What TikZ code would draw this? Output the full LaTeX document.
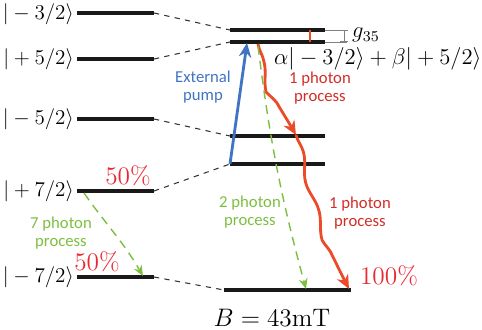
\documentclass[tikz,border=0pt]{standalone}
\usepackage{fontspec}
\newfontfamily\procfont{Carlito}
\usetikzlibrary{arrows.meta,decorations.pathmorphing}
\definecolor{pumpblue}{RGB}{65,115,195}
\definecolor{wavered}{RGB}{235,75,40}
\definecolor{procred}{RGB}{210,45,40}
\definecolor{pctred}{RGB}{235,40,50}
\definecolor{photgreen}{RGB}{125,190,65}
\tikzset{
  level/.style={line width=2pt, black!90},
  link/.style={dash pattern=on 3pt off 3pt, line width=0.6pt, black!80},
  ket/.style={font=\large, inner sep=0.5pt},
  proc/.style={font=\procfont\fontsize{9.5}{10.2}\selectfont, align=center, inner sep=0pt},
  pct/.style={font=\Large, text=pctred, inner sep=0pt},
  photon/.style={wavered, line width=1.6pt, decorate,
    decoration={snake, amplitude=1.6pt, segment length=34pt, post length=7pt},
    -{Stealth[length=8pt,width=7pt]}},
  multi/.style={photgreen, line width=0.8pt, dash pattern=on 5pt off 3.5pt,
    -{Stealth[length=6pt,width=5pt]}}
}
\begin{document}
\begin{tikzpicture}[x=0.2mm, y=-0.2mm]
    \useasboundingbox (0,0) rectangle (482,329);

    % Left levels
    \coordinate (m32a) at (77,13);   \coordinate (m32b) at (154,13);
    \coordinate (p52a) at (77,59);   \coordinate (p52b) at (154,59);
    \coordinate (m52a) at (77,119);  \coordinate (m52b) at (154,119);
    \coordinate (p72a) at (77,191);  \coordinate (p72b) at (154,191);
    \coordinate (m72a) at (77,277);  \coordinate (m72b) at (154,277);

    \draw[level] (m32a) -- (m32b);
    \draw[level] (p52a) -- (p52b);
    \draw[level] (m52a) -- (m52b);
    \draw[level] (p72a) -- (p72b);
    \draw[level] (m72a) -- (m72b);

    \node[ket, anchor=east] (m32lab) at (75,14)  {$|-3/2\rangle$};
    \node[ket, anchor=east] (p52lab) at (75,59)  {$|+5/2\rangle$};
    \node[ket, anchor=east] (m52lab) at (75,119) {$|-5/2\rangle$};
    \node[ket, anchor=east] (p72lab) at (75,191) {$|+7/2\rangle$};
    \node[ket, anchor=east] (m72lab) at (75,277) {$|-7/2\rangle$};

    % Right levels at B
    \coordinate (r1a) at (230,30);   \coordinate (r1b) at (325,30);
    \coordinate (r2a) at (230,42);   \coordinate (r2b) at (325,42);
    \coordinate (r3a) at (230,136);  \coordinate (r3b) at (325,136);
    \coordinate (r4a) at (230,164);  \coordinate (r4b) at (325,164);
    \coordinate (r5a) at (224,290);  \coordinate (r5b) at (351,290);

    \draw[level] (r1a) -- (r1b);
    \draw[level] (r2a) -- (r2b);
    \draw[level] (r3a) -- (r3b);
    \draw[level] (r4a) -- (r4b);
    \draw[level] (r5a) -- (r5b);

    % Dashed links
    \draw[link] (m32b) -- (r1a);
    \draw[link] (p52b) -- (r2a);
    \draw[link] (m52b) -- (r3a);
    \draw[link] (p72b) -- (r4a);
    \draw[link] (m72b) -- (r5a);

    % Gap g35
    \coordinate (g1) at (347,30);  \coordinate (g2) at (347,42);
    \coordinate (gtop) at (344,30);  \coordinate (gbot) at (344,42);
    \draw[gray, line width=0.5pt] (r1b) -- (g1);
    \draw[gray, line width=0.5pt] (r2b) -- (g2);
    \draw[gray, line width=0.5pt, {Bar[width=5pt]}-{Bar[width=5pt]}] (gtop) -- (gbot);
    \node[ket, anchor=west] (gap) at (351,35) {\scalebox{1.07}{$g_{35}$}};
    \coordinate (cpl1) at (310,30);  \coordinate (cpl2) at (310,42);
    \draw[wavered, line width=0.7pt] (cpl1) -- (cpl2);
    \node[ket, anchor=west] (mix) at (273,59)
        {\scalebox{1.075}{$\alpha|-3/2\rangle+\beta|+5/2\rangle$}};

    % Pump
    \coordinate (pumpend) at (247,43);
    \draw[pumpblue, line width=1.6pt, -{Stealth[length=8pt,width=7pt]}] (r4a) -- (pumpend);
    \node[proc, text=pumpblue] (pumplab) at (203,87) {External\\pump};

    % Photon processes
    \coordinate (w0) at (258,44);
    \coordinate (w1) at (296,135);
    \coordinate (w2) at (349,289);
    \draw[photon] (w0) to[out=-80, in=120] (w1);
    \draw[photon] (w1) to[out=-75, in=118] (w2);
    \node[proc, text=procred] (one1) at (320,88)  {1 photon\\process};
    \node[proc, text=procred] (one2) at (360,213) {1 photon\\process};

    \coordinate (t0) at (258,46);  \coordinate (t1) at (306,289);
    \draw[multi] (t0) to[bend right=4] (t1);
    \node[proc, text=photgreen] (two) at (250,212) {2 photon\\process};

    \coordinate (s0) at (84,193);  \coordinate (s1) at (143,276);
    \draw[multi] (s0) to[out=-55, in=120] (s1);
    \node[proc, text=photgreen] (seven) at (61,233) {7 photon\\process};

    % Populations
    \node[pct] (p72pct) at (128,176) {50\%};
    \node[pct] (m72pct) at (97,262)  {50\%};
    \node[pct] (r5pct)  at (389,276) {100\%};

    \node[font=\Large] (field) at (272,318) {$B = 43\mathrm{mT}$};
\end{tikzpicture}
\end{document}
